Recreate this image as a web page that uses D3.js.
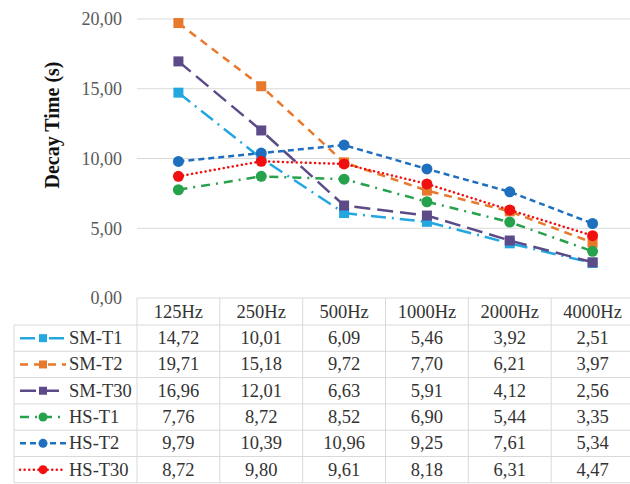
<!DOCTYPE html>
<html>
<head>
<meta charset="utf-8">
<script src="https://cdn.jsdelivr.net/npm/d3@7"></script>
<style>
  body { margin: 0; background: #fff; }
  svg { display: block; font-family: "Liberation Serif", "Times New Roman", serif; }
</style>
</head>
<body>
<svg id="chart" width="630" height="484"></svg>
<script>
// chart data
const categories = ['125Hz', '250Hz', '500Hz', '1000Hz', '2000Hz', '4000Hz'];
const seriesNames = ['SM-T1', 'SM-T2', 'SM-T30', 'HS-T1', 'HS-T2', 'HS-T30'];
const smT1 = [14.72, 10.01, 6.09, 5.46, 3.92, 2.51];
const smT2 = [19.71, 15.18, 9.72, 7.70, 6.21, 3.97];
const smT30 = [16.96, 12.01, 6.63, 5.91, 4.12, 2.56];
const hsT1 = [7.76, 8.72, 8.52, 6.90, 5.44, 3.35];
const hsT2 = [9.79, 10.39, 10.96, 9.25, 7.61, 5.34];
const hsT30 = [8.72, 9.80, 9.61, 8.18, 6.31, 4.47];
const yTicks = [0, 5, 10, 15, 20];

const seriesValues = [smT1, smT2, smT30, hsT1, hsT2, hsT30];

// look of each series
const styles = [
  { color: '#22a7e0', dash: '15,6,2,6', marker: 'square' },
  { color: '#e8782a', dash: '8,6', marker: 'square' },
  { color: '#5c4b88', dash: '16,7', marker: 'square' },
  { color: '#27a24c', dash: '9,6,2,6', marker: 'circle' },
  { color: '#1f6fbf', dash: '6,4', marker: 'circle' },
  { color: '#f01010', dash: '0.1,4.5', marker: 'circle', cap: 'round' }
];

const svg = d3.select('#chart');

const plotLeft = 137, plotRight = 634;
const plotTop = 19, plotBottom = 298;
const tableLeft = 14;
const headerH = 27, rowH = 26.3;

const x = d3.scaleBand().domain(categories).range([plotLeft, plotRight]);
const y = d3.scaleLinear().domain([0, 20]).range([plotBottom, plotTop]);

// gridlines
svg.append('g')
  .selectAll('line')
  .data(yTicks.filter(t => t > 0))
  .enter().append('line')
  .attr('x1', plotLeft).attr('x2', 630)
  .attr('y1', d => y(d)).attr('y2', d => y(d))
  .attr('stroke', '#d9d9d9').attr('stroke-width', 1);

// y axis labels
const yAxis = svg.append('g')
  .attr('transform', `translate(${plotLeft - 15},0)`)
  .call(d3.axisLeft(y).tickValues(yTicks).tickSize(0).tickPadding(0)
    .tickFormat(d => d3.format('.2f')(d).replace('.', ',')));
yAxis.select('.domain').remove();
yAxis.selectAll('text')
  .attr('font-family', '"Liberation Serif", serif')
  .attr('font-size', 18)
  .attr('fill', '#595959');

// axis title
svg.append('text')
  .attr('transform', 'translate(59,125) rotate(-90)')
  .attr('text-anchor', 'middle')
  .attr('font-size', 20)
  .attr('font-weight', 'bold')
  .attr('fill', '#111')
  .text('Decay Time (s)');

// lines and markers
const line = d3.line()
  .x((d, i) => x(categories[i]) + x.bandwidth() / 2)
  .y(d => y(d));

function drawMarker(g, type, cx, cy, size, color) {
  if (type === 'square') {
    g.append('rect')
      .attr('x', cx - size / 2).attr('y', cy - size / 2)
      .attr('width', size).attr('height', size)
      .attr('fill', color);
  } else {
    g.append('circle')
      .attr('cx', cx).attr('cy', cy).attr('r', size / 2 + 0.5)
      .attr('fill', color);
  }
}

seriesValues.forEach((vals, s) => {
  const st = styles[s];
  const g = svg.append('g');
  g.append('path')
    .datum(vals)
    .attr('d', line)
    .attr('fill', 'none')
    .attr('stroke', st.color)
    .attr('stroke-width', 2.5)
    .attr('stroke-linecap', st.cap || 'butt')
    .attr('stroke-dasharray', st.dash);
  vals.forEach((v, i) => {
    drawMarker(g, st.marker, x(categories[i]) + x.bandwidth() / 2, y(v), 10, st.color);
  });
});

// data table
const tableTop = plotBottom;
const rowsTop = tableTop + headerH;
const tableBottom = rowsTop + rowH * seriesNames.length;
const grid = svg.append('g').attr('stroke', '#d9d9d9').attr('stroke-width', 1);

// horizontal rules
grid.append('line')
  .attr('x1', plotLeft).attr('x2', 630)
  .attr('y1', tableTop).attr('y2', tableTop);
d3.range(seriesNames.length + 1).forEach(r => {
  const yy = rowsTop + r * rowH;
  grid.append('line')
    .attr('x1', tableLeft).attr('x2', 630)
    .attr('y1', yy).attr('y2', yy);
});
// vertical rules
grid.append('line')
  .attr('x1', tableLeft).attr('x2', tableLeft)
  .attr('y1', rowsTop).attr('y2', tableBottom);
categories.forEach(c => {
  grid.append('line')
    .attr('x1', x(c)).attr('x2', x(c))
    .attr('y1', tableTop).attr('y2', tableBottom);
});

// header
svg.append('g')
  .selectAll('text')
  .data(categories)
  .enter().append('text')
  .attr('x', d => x(d) + x.bandwidth() / 2)
  .attr('y', tableTop + headerH / 2 + 6)
  .attr('text-anchor', 'middle')
  .attr('font-size', 18.5)
  .attr('fill', '#333')
  .text(d => d);

// rows
seriesNames.forEach((name, s) => {
  const st = styles[s];
  const cy = rowsTop + s * rowH + rowH / 2;
  const g = svg.append('g');
  // legend key
  g.append('line')
    .attr('x1', 20).attr('x2', 66)
    .attr('y1', cy).attr('y2', cy)
    .attr('stroke', st.color)
    .attr('stroke-width', 2.5)
    .attr('stroke-linecap', st.cap || 'butt')
    .attr('stroke-dasharray', st.dash);
  drawMarker(g, st.marker, 43, cy, 8, st.color);
  g.append('text')
    .attr('x', 69).attr('y', cy + 6)
    .attr('font-size', 18.5)
    .attr('fill', '#333')
    .text(name);
  seriesValues[s].forEach((v, i) => {
    g.append('text')
      .attr('x', x(categories[i]) + x.bandwidth() / 2)
      .attr('y', cy + 6)
      .attr('text-anchor', 'middle')
      .attr('font-size', 18.5)
      .attr('fill', '#333')
      .text(d3.format('.2f')(v).replace('.', ','));
  });
});
</script>
</body>
</html>
